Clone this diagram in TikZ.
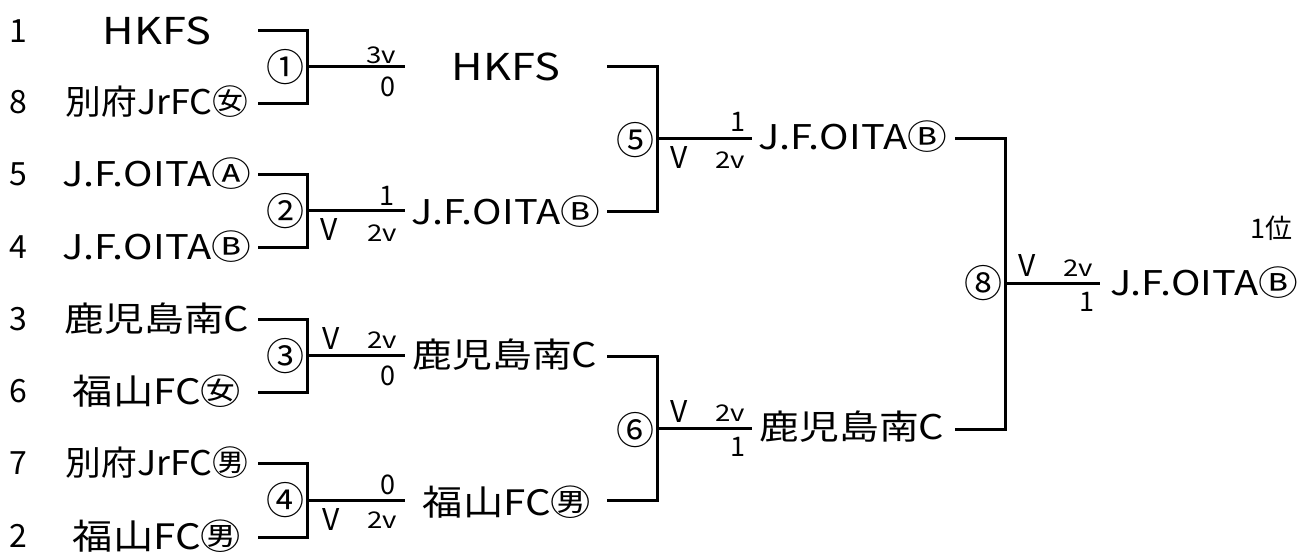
\documentclass[tikz,border=0pt]{standalone}
\usepackage{fontspec}
\setmainfont{Noto Sans CJK JP}
\tikzset{
  team/.style={inner sep=0pt, font=\fontsize{34}{34}\selectfont, xscale=1.17},
  bigteam/.style={inner sep=0pt, font=\fontsize{35}{35}\selectfont, xscale=1.15},
  seed/.style={inner sep=0pt, font=\fontsize{32}{32}\selectfont},
  game/.style={inner sep=0pt, font=\fontsize{38}{38}\selectfont},
  goals/.style={inner sep=0pt, font=\fontsize{27}{27}\selectfont},
  goalsv/.style={inner sep=0pt, font=\fontsize{23}{23}\selectfont, xscale=1.2},
  vmark/.style={inner sep=0pt, font=\fontsize{30}{30}\selectfont},
  tie/.style={line width=3pt}
}
\begin{document}
\begin{tikzpicture}[x=1pt,y=-1pt]
\useasboundingbox (0,0) rectangle (1300,554);
% seeds and teams
\foreach \n/\y in {1/31,8/102,5/174,4/247,3/319,6/391,7/463,2/536}
  \node[seed] (s\n) at (18,\y) {\n};
\node[team, font=\fontsize{37}{37}\selectfont] (t1) at (157,31) {HKFS};
\node[team, xscale=0.9] (t8) at (157,102) {別府JrFC㊛};
\node[team] (t5) at (157,174) {J.F.OITAⒶ};
\node[team] (t4) at (157,247) {J.F.OITAⒷ};
\node[team] (t3) at (157,319) {鹿児島南C};
\node[bigteam] (t6) at (157,391) {福山FC㊛};
\node[team, xscale=0.9] (t7) at (157,463) {別府JrFC㊚};
\node[bigteam] (t2) at (157,536) {福山FC㊚};
% round 1
\foreach \i/\ya/\yb in {1/30/103,2/174/247,3/319/392,4/463/537}{
  \coordinate (a\i) at (258,\ya);
  \coordinate (b\i) at (258,\yb);
  \coordinate (m\i) at (307,{(\ya+\yb)/2});
  \coordinate (e\i) at (405,{(\ya+\yb)/2});
  \draw[tie] (a\i) -| (m\i) |- (b\i) (m\i) -- (e\i);
}
\node[game] (g1) at (285,67) {①};
\node[game] (g2) at (285,211) {②};
\node[game] (g3) at (285,356) {③};
\node[game] (g4) at (285,500) {④};
\node[goalsv] (p1a) at (381,55) {3v};
\node[goals] (p1b) at (388,87) {0};
\node[goals] (p2a) at (387,196) {1};
\node[vmark] (v2) at (329,230) {V};
\node[goalsv] (p2b) at (382,233) {2v};
\node[vmark] (v3) at (331,338) {V};
\node[goalsv] (p3a) at (382,340) {2v};
\node[goals] (p3b) at (388,376) {0};
\node[goals] (p4a) at (388,485) {0};
\node[vmark] (v4) at (331,519) {V};
\node[goalsv] (p4b) at (382,520) {2v};
% round 2
\node[team, font=\fontsize{37}{37}\selectfont] (w1) at (506,67) {HKFS};
\node[team] (w2) at (506,212) {J.F.OITAⒷ};
\node[team] (w3) at (505,355) {鹿児島南C};
\node[bigteam] (w4) at (507,502) {福山FC㊚};
\foreach \i/\ya/\yb in {5/66/211,6/356/500}{
  \coordinate (a\i) at (607,\ya);
  \coordinate (b\i) at (607,\yb);
  \coordinate (m\i) at (657,{(\ya+\yb)/2});
  \coordinate (e\i) at (752,{(\ya+\yb)/2});
  \draw[tie] (a\i) -| (m\i) |- (b\i) (m\i) -- (e\i);
}
\node[game] (g5) at (635,140) {⑤};
\node[game] (g6) at (635,430) {⑥};
\node[goals] (p5a) at (738,122) {1};
\node[vmark] (v5) at (679,158) {V};
\node[goalsv] (p5b) at (730,160) {2v};
\node[vmark] (v6) at (679,411) {V};
\node[goalsv] (p6a) at (730,413) {2v};
\node[goals] (p6b) at (738,447) {1};
% final
\node[team] (w5) at (853,137) {J.F.OITAⒷ};
\node[team] (w6) at (852,427) {鹿児島南C};
\coordinate (a8) at (955,138);
\coordinate (b8) at (955,429);
\coordinate (m8) at (1005,283);
\coordinate (e8) at (1100,283);
\draw[tie] (a8) -| (m8) |- (b8) (m8) -- (e8);
\node[game] (g8) at (983,283) {⑧};
\node[vmark] (v8) at (1027,266) {V};
\node[goalsv] (p8a) at (1078,268) {2v};
\node[goals] (p8b) at (1087,302) {1};
\node[team, anchor=west] (champ) at (1110,283) {J.F.OITAⒷ};
\node[goals, anchor=east] (rank) at (1293,228) {1位};
\end{tikzpicture}
\end{document}
